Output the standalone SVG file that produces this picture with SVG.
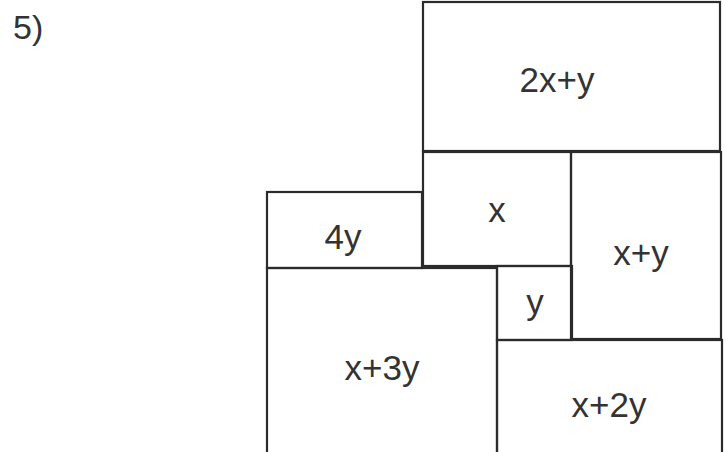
<svg xmlns="http://www.w3.org/2000/svg" width="726" height="452" viewBox="0 0 726 452">
<style>
.box{fill:none;stroke:#2b2b2b;stroke-width:2.2}
.lbl{font-family:"Liberation Sans",Arial,sans-serif;font-size:35px;fill:#333;text-anchor:middle}
</style>
<rect width="726" height="452" fill="#fff"/>
<text x="13" y="39" style="font-family:'Liberation Sans',Arial,sans-serif;font-size:34px;fill:#333">5)</text>
<g id="n-2x+y"><rect class="box" x="423" y="2" width="297" height="149"/><text class="lbl" x="557" y="92">2x+y</text></g>
<g id="n-x"><rect class="box" x="423" y="152" width="148" height="114"/><text class="lbl" x="497" y="222">x</text></g>
<g id="n-4y"><rect class="box" x="267" y="192" width="155" height="76"/><text class="lbl" x="343" y="249">4y</text></g>
<g id="n-x+y"><rect class="box" x="571" y="152" width="150" height="187"/><text class="lbl" x="641" y="265">x+y</text></g>
<g id="n-y"><rect class="box" x="497" y="266" width="75" height="74"/><text class="lbl" x="535" y="314">y</text></g>
<g id="n-x+3y"><rect class="box" x="267" y="268" width="230" height="200"/><text class="lbl" x="382" y="380">x+3y</text></g>
<g id="n-x+2y"><rect class="box" x="497" y="340" width="225" height="130"/><text class="lbl" x="609" y="417">x+2y</text></g>
<g id="connectors"><line x1="422" y1="267" x2="460" y2="267" stroke="#2b2b2b" stroke-width="4"/></g>
</svg>
